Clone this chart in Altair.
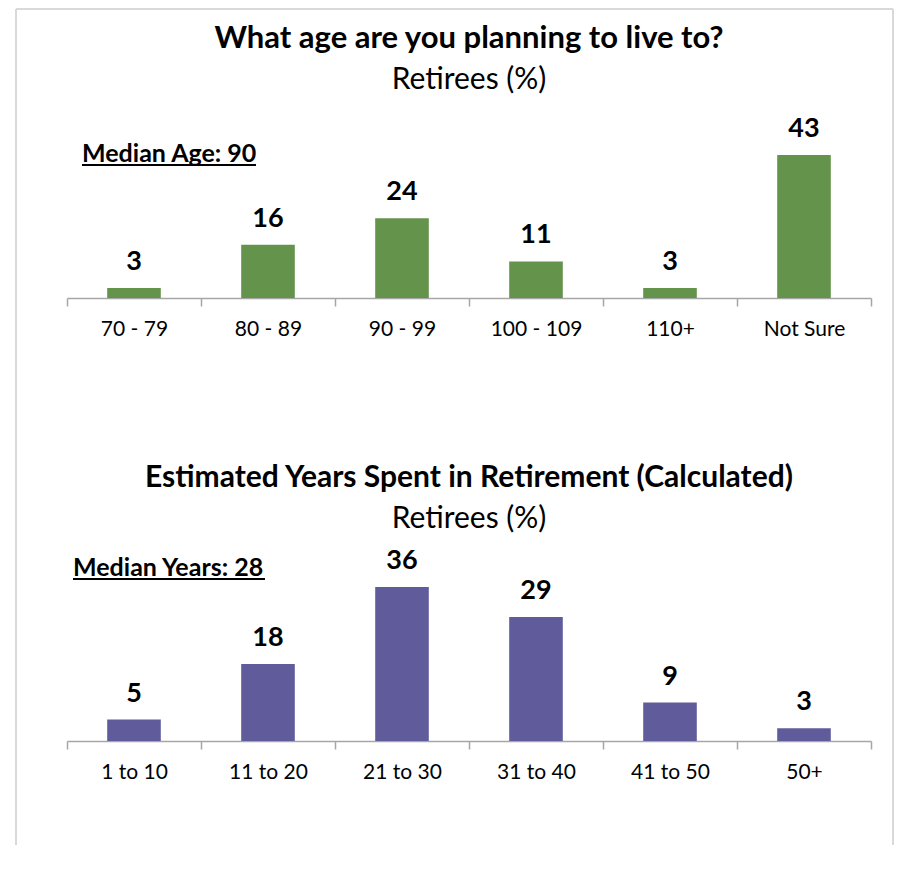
import altair as alt
import pandas as pd

age_cats = ["70 - 79", "80 - 89", "90 - 99", "100 - 109", "110+", "Not Sure"]
age_vals = [3, 16, 24, 11, 3, 43]
yrs_cats = ["1 to 10", "11 to 20", "21 to 30", "31 to 40", "41 to 50", "50+"]
yrs_vals = [5, 18, 36, 29, 9, 3]

GREEN = "#64944B"
PURPLE = "#605C9C"
FRAME = "#D9D9D9"
FONT = "Lato"
W = 804

def panel(cats, vals, color, title, title_size, ymax, height, note, note_x, note_y, ul_w,
          offset, sub_pad, frame=False):
    n = len(cats)
    df = pd.DataFrame({"cat": cats, "val": vals, "i": list(range(n))})
    names = "[" + ",".join("'" + c + "'" for c in cats + [""]) + "]"
    half = W / n / 2
    xscale = alt.Scale(domain=[0, n], nice=False, zero=False)
    xaxis = alt.Axis(title=None, values=list(range(n + 1)), labelExpr=names + "[datum.value]",
                     labelOffset={"expr": f"datum.value < {n} ? {half} : 0"},
                     labelFlush=False, labelOverlap=False,
                     labelAngle=0, labelBaseline="top")
    y = alt.Y("val:Q", scale=alt.Scale(domain=[0, ymax], nice=False), axis=None)
    base = alt.Chart(df).transform_calculate(
        x0="datum.i + 0.3", x1="datum.i + 0.7", xc="datum.i + 0.5")
    bars = base.mark_bar(color=color).encode(
        x=alt.X("x0:Q", scale=xscale, axis=xaxis), x2="x1:Q", y=y, y2=alt.datum(0))
    labels = base.mark_text(font=FONT, fontSize=27, fontWeight="bold", baseline="alphabetic",
                            dy=-18, color="black").encode(
        x=alt.X("xc:Q", scale=xscale), y=y, text="val:Q")
    note_df = pd.DataFrame({"t": [note]})
    note_txt = alt.Chart(note_df).mark_text(font=FONT, fontSize=25, fontWeight="bold",
                                            align="left", baseline="alphabetic",
                                            color="black").encode(
        text="t:N", x=alt.value(note_x), y=alt.value(note_y))
    underline = alt.Chart(note_df).mark_rule(color="black", strokeWidth=2).encode(
        x=alt.value(note_x), x2=alt.value(note_x + ul_w), y=alt.value(note_y + 3))
    layers = [bars, labels, note_txt, underline]
    if frame:
        fl, fr, ft, fb = -51, 826, -146, 690
        f = alt.Chart(note_df)
        layers += [
            f.mark_rule(color=FRAME, strokeWidth=2).encode(
                x=alt.value(fl), x2=alt.value(fr), y=alt.value(ft)),
            f.mark_rule(color=FRAME, strokeWidth=2).encode(
                x=alt.value(fl), y=alt.value(ft), y2=alt.value(fb)),
            f.mark_rule(color=FRAME, strokeWidth=2).encode(
                x=alt.value(fr), y=alt.value(ft), y2=alt.value(fb)),
        ]
    return alt.layer(*layers).properties(
        width=W, height=height,
        title=alt.TitleParams(title, subtitle="Retirees (%)", font=FONT, fontSize=title_size,
                              fontWeight="bold", subtitleFont=FONT, subtitleFontSize=30,
                              subtitleColor="black", color="black", anchor="middle",
                              offset=offset, subtitlePadding=sub_pad))

top = panel(age_cats, age_vals, GREEN, "What age are you planning to live to?", 31,
            43, 143, "Median Age: 90", 15, 7, 174, -88, 10, frame=True)
bottom = panel(yrs_cats, yrs_vals, PURPLE, "Estimated Years Spent in Retirement (Calculated)", 30,
               36, 154, "Median Years: 28", 6, -11, 192, 13, 11)

chart = alt.vconcat(top, bottom, spacing=289, bounds="flush").properties(
    padding={"left": 7, "top": 0, "right": 0, "bottom": 0}
).configure_view(strokeWidth=0).configure_axis(
    domainColor="#A6A6A6", tickColor="#A6A6A6", tickSize=8, domainWidth=1.5, tickWidth=1.5,
    labelFont=FONT, labelFontSize=21, labelColor="black", labelPadding=12, grid=False
)

chart.save("out.html", embed_options={"renderer": "svg", "actions": False})
